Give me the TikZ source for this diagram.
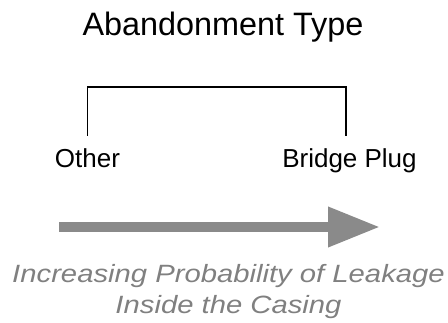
\documentclass[tikz,border=0pt]{standalone}
\usepackage{fontspec}
\setmainfont{Liberation Sans}
\newfontfamily\widesans[FakeStretch=1.17]{Liberation Sans}
\usetikzlibrary{arrows.meta}
\definecolor{arrowgray}{HTML}{8A8A8A}
\definecolor{notegray}{HTML}{808080}
\begin{document}
\begin{tikzpicture}[x=1pt, y=-1pt]

\useasboundingbox (0,0) rectangle (448,322);

\node [anchor=base, inner sep=0pt, font={\fontsize{32.4}{32.4}\selectfont}] (title)
 at (223, 35) {Abandonment Type};


\node [anchor=base, inner sep=0pt, font={\fontsize{26}{26}\selectfont}] (other)
 at (87.5, 167) {Other};

\node [anchor=base, inner sep=0pt, font={\fontsize{26}{26}\selectfont}] (plug)
 at (349.5, 167) {Bridge Plug};

\draw [line width=1.6pt] ([yshift=12pt]other.north) -- ++(0,-49) -| ([xshift=-3.5pt, yshift=12pt]plug.north);


\coordinate (tail) at (59, 227);
\coordinate (tip) at (380, 227);
\draw [arrowgray, line width=10pt, -{Triangle[length=52pt, width=38pt]}] (tail) -- (tip);


\node [anchor=base, inner sep=0pt, align=center, text=notegray,
font={\widesans\itshape\fontsize{25}{31}\selectfont}] (note)
 at (228.5, 313) {Increasing Probability of Leakage\\Inside the Casing};

\end{tikzpicture}
\end{document}
